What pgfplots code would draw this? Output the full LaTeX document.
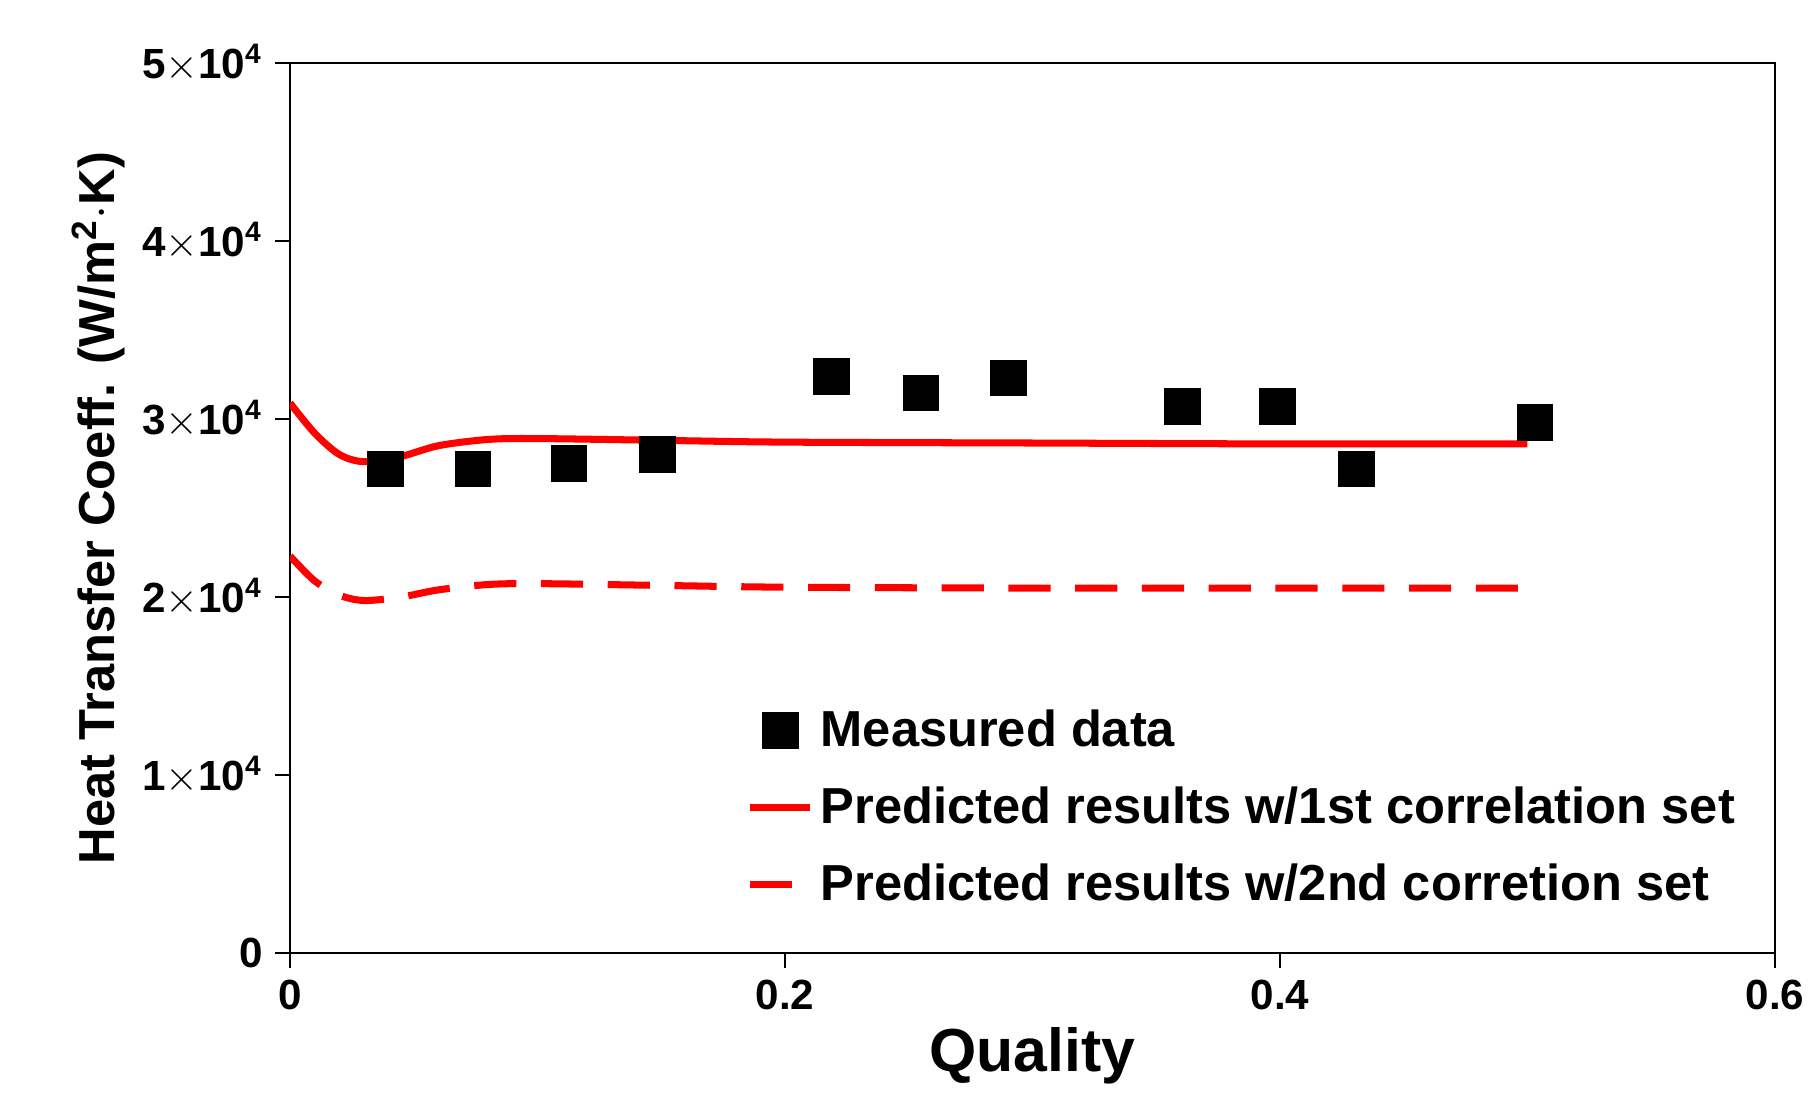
\documentclass[border=0pt]{standalone}
\usepackage{pgfplots}
\pgfplotsset{compat=1.18}
\usepackage{fontspec}
\setmainfont{Liberation Sans}
\begin{document}
\begin{tikzpicture}
\path (-2.9,-1.3) rectangle (15.3,9.53);
\begin{axis}[
 at={(0,0)}, anchor=origin,
 width=14.85cm, height=8.9cm, scale only axis,
 scaled ticks=false,
 xmin=0, xmax=0.6, ymin=0, ymax=50000,
 xtick={0,0.2,0.4,0.6}, xticklabels={\textbf{0},\textbf{0.2},\textbf{0.4},\textbf{0.6}},
 ytick={0,10000,20000,30000,40000,50000},
 yticklabels={\textbf{0},\textbf{1$\times$10\textsuperscript{4}},\textbf{2$\times$10\textsuperscript{4}},\textbf{3$\times$10\textsuperscript{4}},\textbf{4$\times$10\textsuperscript{4}},\textbf{5$\times$10\textsuperscript{4}}},
 tick align=outside, tick style={black, thick}, axis line style={thick},
 ticklabel style={font=\large}, minor tick num=0,
 xtick pos=bottom, ytick pos=left,
 xlabel={\bfseries Quality}, ylabel={\bfseries Heat Transfer Coeff. (W/m\textsuperscript{2}$\cdot$K)},
 xlabel style={font=\LARGE, yshift=2pt}, ylabel style={font=\Large, yshift=-2pt},
 legend style={draw=none, fill=none, at={(0.3,0.29)}, anchor=north west, font=\Large\bfseries, row sep=6pt},
 legend cell align=left,
]
\addplot[only marks, mark=square*, mark size=5pt, black] coordinates {
(0.0386,27200)(0.074,27200)(0.1127,27500)(0.1485,28000)(0.2187,32400)(0.255,31450)(0.2903,32300)(0.3606,30700)(0.399,30700)(0.431,27200)(0.503,29800)};
\addlegendentry{Measured data}
\addplot[red, line width=2pt, smooth] coordinates {
(0,30900)(0.01,29200)(0.02,28000)(0.03,27600)(0.045,27900)(0.06,28500)(0.08,28850)(0.1,28900)(0.15,28800)(0.2,28700)(0.3,28650)(0.4,28600)(0.5,28600)};
\addlegendentry{Predicted results w/1st correlation set}
\addplot[red, line width=2pt, dashed, dash pattern=on 12pt off 7pt, smooth] coordinates {
(0,22300)(0.01,20900)(0.02,20100)(0.03,19800)(0.045,20000)(0.06,20400)(0.08,20700)(0.1,20750)(0.15,20650)(0.2,20550)(0.3,20500)(0.4,20500)(0.5,20500)};
\addlegendentry{Predicted results w/2nd corretion set}
\end{axis}
\end{tikzpicture}
\end{document}
